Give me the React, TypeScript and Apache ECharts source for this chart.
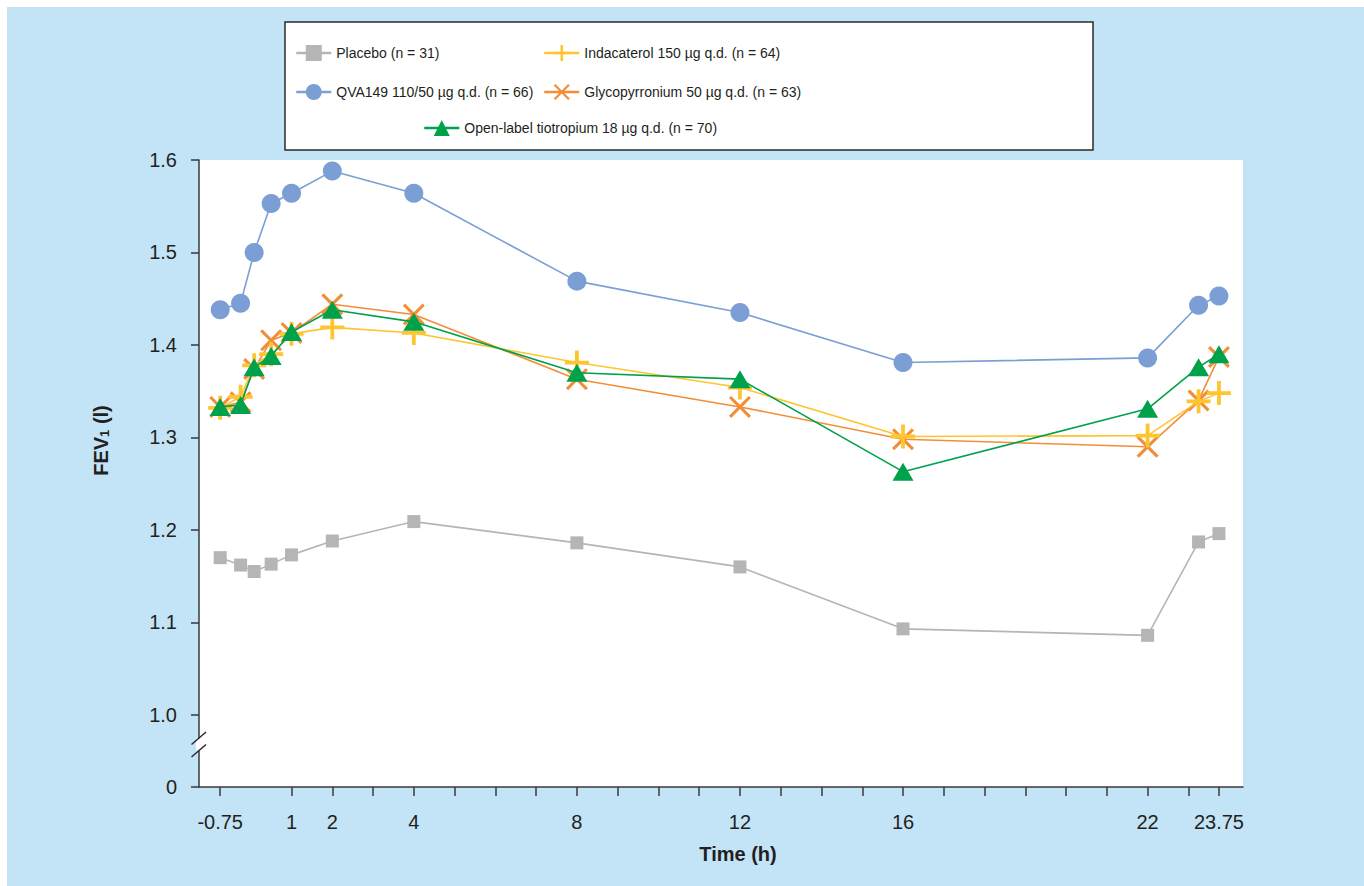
import React, { useEffect, useRef } from "react";
import * as echarts from "echarts";

const timePoints = [-0.75, -0.25, 0.083, 0.5, 1, 2, 4, 8, 12, 16, 22, 23.25, 23.75];
const placebo = [1.170, 1.162, 1.155, 1.163, 1.173, 1.188, 1.209, 1.186, 1.160, 1.093, 1.086, 1.187, 1.196];
const qva149 = [1.438, 1.445, 1.500, 1.553, 1.564, 1.588, 1.564, 1.469, 1.435, 1.381, 1.386, 1.443, 1.453];
const indacaterol = [1.332, 1.344, 1.378, 1.390, 1.412, 1.419, 1.413, 1.381, 1.354, 1.301, 1.302, 1.339, 1.348];
const glycopyrronium = [1.333, 1.338, 1.374, 1.405, 1.413, 1.444, 1.433, 1.363, 1.333, 1.298, 1.290, 1.340, 1.387];
const tiotropium = [1.333, 1.335, 1.376, 1.388, 1.414, 1.438, 1.425, 1.370, 1.363, 1.263, 1.331, 1.376, 1.390];

const seriesNames = [
  "Placebo (n = 31)",
  "QVA149 110/50 µg q.d. (n = 66)",
  "Indacaterol 150 µg q.d. (n = 64)",
  "Glycopyrronium 50 µg q.d. (n = 63)",
  "Open-label tiotropium 18 µg q.d. (n = 70)",
];

const xTickValues = [-0.75, 1, 2, 3, 4, 5, 6, 7, 8, 9, 10, 11, 12, 13, 14, 15, 16, 17, 18, 19, 20, 21, 22, 23, 23.75];
const xLabelValues = [-0.75, 1, 2, 4, 8, 12, 16, 22, 23.75];
const yAxisMin = 0.922;
const yLabelValues = [yAxisMin, 1.0, 1.1, 1.2, 1.3, 1.4, 1.5, 1.6];

const PLUS =
  "path://M10.1,0L13.9,0L13.9,10.1L24,10.1L24,13.9L13.9,13.9L13.9,24L10.1,24L10.1,13.9L0,13.9L0,10.1L10.1,10.1Z";
const CROSS =
  "path://M0,2.4L2.4,0L12,9.6L21.6,0L24,2.4L14.4,12L24,21.6L21.6,24L12,14.4L2.4,24L0,21.6L9.6,12Z";

const FONT = "'Liberation Sans', Arial, Helvetica, sans-serif";
const TEXT = "#231f20";

function pairs(vals: number[]) {
  return timePoints.map((t, i) => [t, vals[i]]);
}

export default function App() {
  const ref = useRef<HTMLDivElement>(null);
  useEffect(() => {
    if (!ref.current) return;
    const chart = echarts.init(ref.current, undefined, { renderer: "svg" });

    const mkLegend = (name: string, left: number, top: number) => ({
      data: [name],
      left,
      top,
      orient: "horizontal",
      itemWidth: 35,
      itemHeight: 20,
      itemGap: 0,
      lineStyle: { width: 2.5 },
      textStyle: { fontFamily: FONT, fontSize: 14, color: TEXT },
      selectedMode: false,
    });

    const lineSeries = (
      name: string,
      vals: number[],
      color: string,
      symbol: string,
      symbolSize: number | number[],
      z: number
    ) => ({
      type: "line",
      name,
      data: pairs(vals),
      symbol,
      symbolSize,
      showSymbol: true,
      z,
      lineStyle: { color, width: 1.6 },
      itemStyle: { color, borderWidth: 0 },
      emphasis: { disabled: true },
    });

    chart.setOption({
      animation: false,
      backgroundColor: "transparent",
      textStyle: { fontFamily: FONT },
      legend: [
        mkLegend(seriesNames[0], 290, 40),
        mkLegend(seriesNames[1], 290, 79),
        mkLegend(seriesNames[2], 538, 40),
        mkLegend(seriesNames[3], 538, 79),
        mkLegend(seriesNames[4], 418, 115),
      ],
      grid: {
        left: 199,
        right: 121,
        top: 160,
        bottom: 99,
        show: true,
        backgroundColor: "#ffffff",
        borderWidth: 0,
      },
      xAxis: {
        type: "value",
        min: -1.27,
        max: 24.34,
        name: "Time (h)",
        nameLocation: "middle",
        nameGap: 57,
        nameTextStyle: {
          fontFamily: FONT,
          fontSize: 20,
          fontWeight: "bold",
          color: TEXT,
          padding: [0, 0, 0, 34],
        },
        axisLine: { onZero: false, lineStyle: { color: "#3a3a3a", width: 1.5 } },
        axisTick: {
          show: true,
          length: 9,
          customValues: xTickValues,
          lineStyle: { color: "#3a3a3a", width: 1.5 },
        },
        axisLabel: {
          customValues: xLabelValues,
          margin: 25,
          fontSize: 20,
          color: TEXT,
          fontFamily: FONT,
          formatter: (v: number) => String(v),
        },
        splitLine: { show: false },
      },
      yAxis: {
        type: "value",
        min: yAxisMin,
        max: 1.6,
        name: "FEV{sub|1} (l)",
        nameLocation: "middle",
        nameGap: 88,
        nameRotate: 90,
        nameTextStyle: {
          fontFamily: FONT,
          fontSize: 20,
          fontWeight: "bold",
          color: TEXT,
          padding: [0, 0, 0, 66],
          rich: {
            sub: { fontSize: 13, fontWeight: "bold", color: TEXT, fontFamily: FONT, verticalAlign: "bottom", padding: [8, 0, 0, 0] },
          },
        },
        axisLine: { show: true, onZero: false, lineStyle: { color: "#3a3a3a", width: 1.5 } },
        axisTick: {
          show: true,
          length: 8,
          customValues: yLabelValues,
          lineStyle: { color: "#3a3a3a", width: 1.5 },
        },
        axisLabel: {
          customValues: yLabelValues,
          margin: 22,
          fontSize: 20,
          color: TEXT,
          fontFamily: FONT,
          formatter: (v: number) => (v < 0.95 ? "0" : v.toFixed(1)),
        },
        splitLine: { show: false },
      },
      series: [
        lineSeries(seriesNames[0], placebo, "#b5b5b5", "rect", 13, 2),
        lineSeries(seriesNames[1], qva149, "#7b9ed4", "circle", 19, 3),
        lineSeries(seriesNames[3], glycopyrronium, "#f28e37", CROSS, 22, 4),
        lineSeries(seriesNames[2], indacaterol, "#fec530", PLUS, 24, 5),
        lineSeries(seriesNames[4], tiotropium, "#00a14b", "triangle", [21, 18], 6),
      ],
    });

    // Legend frame and y-axis break marks
    const yBreak = chart.convertToPixel({ gridIndex: 0 }, [-1.27, 0.968]) as number[];
    const ax = yBreak[0];
    const by = yBreak[1];
    chart.setOption({
      graphic: [
        {
          type: "rect",
          z: -1,
          shape: { x: 285, y: 22, width: 808, height: 128 },
          style: { fill: "#ffffff", stroke: "#2a2a2a", lineWidth: 1.5 },
          silent: true,
        },
        {
          type: "rect",
          z: 50,
          shape: { x: ax - 3, y: by - 6, width: 6, height: 12 },
          style: { fill: "#ffffff" },
          silent: true,
        },
        {
          type: "line",
          z: 51,
          shape: { x1: ax - 7.5, y1: by, x2: ax + 7, y2: by - 12.5 },
          style: { stroke: "#2a2a2a", lineWidth: 1.5 },
          silent: true,
        },
        {
          type: "line",
          z: 51,
          shape: { x1: ax - 7.5, y1: by + 12.5, x2: ax + 7, y2: by },
          style: { stroke: "#2a2a2a", lineWidth: 1.5 },
          silent: true,
        },
      ],
    });

    return () => chart.dispose();
  }, []);

  return (
    <div style={{ position: "fixed", left: 0, top: 0, width: 1364, height: 886, background: "#ffffff" }}>
      <div style={{ position: "absolute", left: 7, top: 7, right: 0, bottom: 0, background: "#c3e4f6" }} />
      <div ref={ref} style={{ position: "absolute", left: 0, top: 0, width: 1364, height: 886 }} />
    </div>
  );
}
